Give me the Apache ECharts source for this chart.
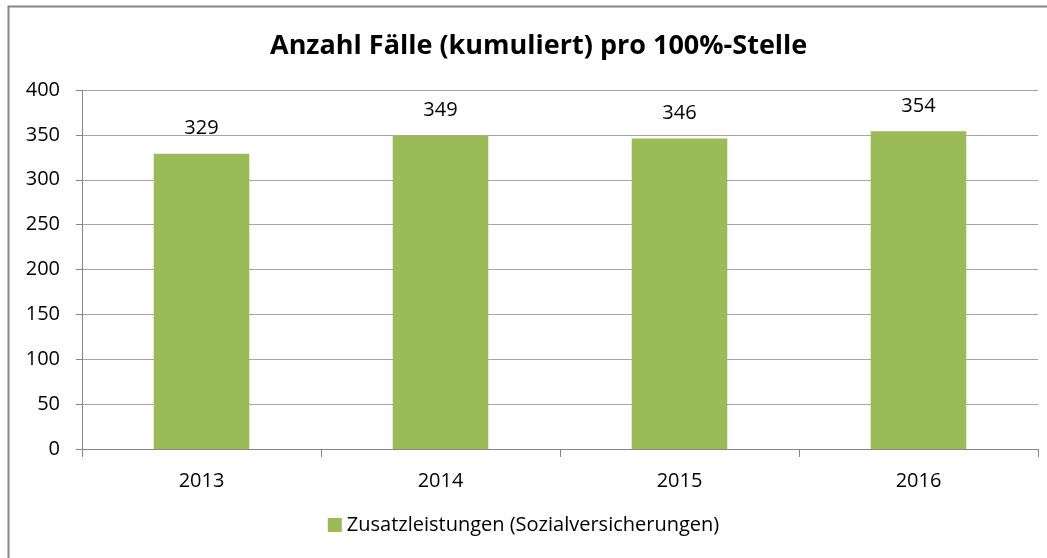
<!DOCTYPE html>
<html>
<head>
<meta charset="utf-8">
<script src="https://cdn.jsdelivr.net/npm/echarts@6/dist/echarts.min.js"></script>
<style>
  html, body { margin: 0; padding: 0; background: #fff; }
  #chart { width: 1047px; height: 558px; }
</style>
</head>
<body>
<div id="chart"></div>
<script>
// data
var years = ["2013", "2014", "2015", "2016"];
var faelle = [329, 349, 346, 354];
var seriesName = "Zusatzleistungen (Sozialversicherungen)";

var myChart = echarts.init(document.getElementById("chart"));
var option = {
  animation: false,
  textStyle: { fontFamily: "Open Sans" },
  graphic: [
    {
      type: "rect",
      shape: { x: 8.5, y: 6.5, width: 1100, height: 600 },
      style: { fill: "none", stroke: "#868686", lineWidth: 2 },
    },
  ],
  title: {
    text: "Anzahl Fälle (kumuliert) pro 100%-Stelle",
    left: 265,
    top: 28,
    textStyle: { fontSize: 27, fontWeight: "bold", color: "#000", fontFamily: "Open Sans" },
  },
  legend: {
    bottom: 18,
    left: "center",
    itemWidth: 14,
    itemHeight: 14,
    icon: "rect",
    itemGap: 6,
    textStyle: { fontSize: 20, color: "#000" },
    data: [seriesName],
  },
  grid: { left: 82, right: 9, top: 90, bottom: 109, containLabel: false },
  xAxis: {
    type: "category",
    data: years,
    axisLine: { lineStyle: { color: "#868686", width: 1 } },
    axisTick: { show: true, length: 8, lineStyle: { color: "#868686" } },
    axisLabel: { fontSize: 20, color: "#000", margin: 22 },
  },
  yAxis: {
    type: "value",
    min: 0,
    max: 400,
    interval: 50,
    axisLine: { show: true, lineStyle: { color: "#868686" } },
    axisTick: { show: true, length: 6, inside: false, lineStyle: { color: "#868686" } },
    axisLabel: { fontSize: 20, color: "#000", margin: 22 },
    splitLine: { lineStyle: { color: "#a6a6a6", width: 1 } },
  },
  series: [
    {
      name: seriesName,
      type: "bar",
      data: faelle,
      barWidth: "40%",
      itemStyle: { color: "#9BBB59" },
      label: { show: true, position: "top", distance: 15, fontSize: 20, color: "#000" },
    },
  ],
};
myChart.setOption(option);
</script>
</body>
</html>
